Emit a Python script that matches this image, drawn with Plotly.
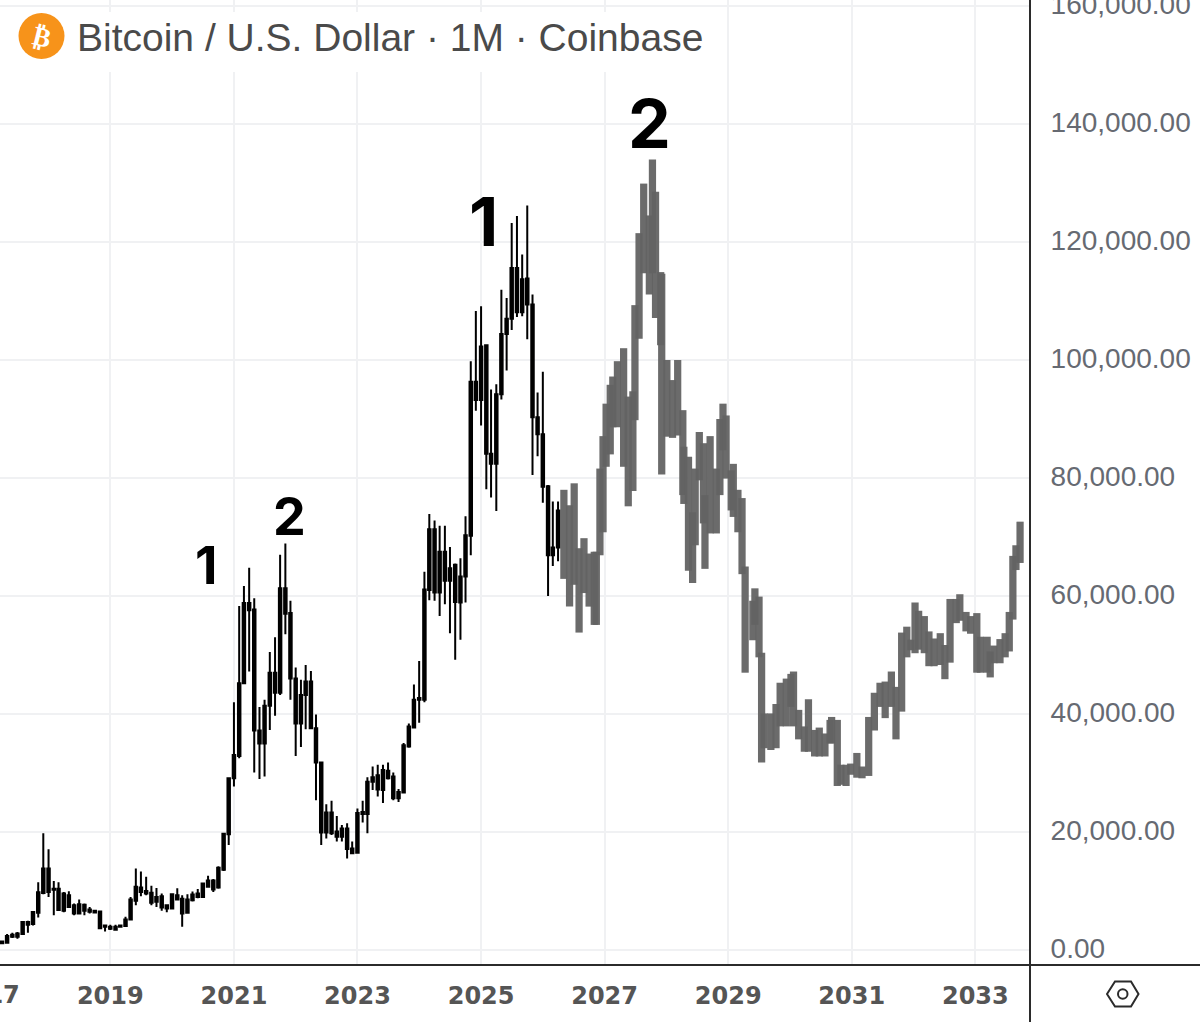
import pandas as pd
import plotly.graph_objects as go

# Monthly BTC/USD candles, prices in thousands of dollars
first_candle = "2017-04-01"
candle_open = [1.13,1.24,2.25,2.25,2.7,4.73,4.39,6.3,9.68,13.8,10.4,10.4,6.64,9.3,7.6,6.2,7.66,6.87,6.64,6.53,3.94,
               3.94,3.43,3.94,4.05,5.18,8.33,10.6,10.0,9.7,8.16,9.12,7.04,7.04,9.3,8.67,6.3,8.44,9.0,9.0,11.8,11.8,10.6,13.6,19.6,
               29.1,32.9,45.2,58.8,57.7,37.2,35.0,41.4,47.0,43.6,61.3,57.1,46.0,38.4,43.2,45.5,37.6,31.8,19.9,23.3,19.2,20.6,20.6,17.2,
               16.5,23.05,23.05,28.5,29.6,27.1,30.4,29.4,25.7,26.7,34.5,37.7,42.4,42.4,61.0,71.3,60.6,67.5,62.6,65.3,58.9,63.3,
               70.2,96.3,93.2,102.5,84.1,82.4,94.2,104.4,107,115.6,108.1,113.8,109.4,90.3,87.4,78.6,66.9,68.2]
candle_high = [1.46,2.7,2.93,3.04,4.73,4.95,6.53,11.5,19.8,17.06,11.7,11.5,9.85,9.96,7.88,8.56,7.88,7.3,6.75,6.64,4.17,
               4.28,4.28,4.2,5.63,9.0,13.8,13.3,12.4,10.9,10.5,9.57,7.77,9.57,10.47,9.3,9.46,9.9,10.36,11.37,12.6,12.05,14.2,19.8,29.1,
               42.0,58.3,61.7,64.8,59.6,41.2,42.4,50.5,53.0,67.0,68.9,59.2,47.9,45.8,48.3,47.3,39.9,31.9,24.7,25.3,22.7,21.2,21.5,18.4,
               24.0,25.3,29.3,31.1,31.4,31.4,31.8,30.1,27.3,35.1,38.4,45.0,49.0,64.1,73.9,72.8,71.9,71.9,68.3,65.5,66.4,73.5,
               99.8,108.3,109.1,102.6,95.0,95.9,111.9,110.5,123.2,124.4,117.9,126.2,111.1,94.5,98.0,78.8,76.0,76.0]
candle_low = [1.13,1.24,2.03,1.9,2.6,2.93,4.17,5.5,9.46,9.0,5.9,6.64,6.4,7.2,5.9,6.0,5.9,6.2,6.2,3.5,3.15,
              3.38,3.38,3.9,3.94,5.07,7.6,9.1,9.3,7.6,7.3,6.64,6.4,6.87,8.4,3.94,6.2,8.2,8.78,8.9,10.6,9.85,10.4,13.4,17.8,
              27.7,32.5,45.2,47.2,30.1,29.0,29.4,37.3,39.7,43.2,53.5,42.4,32.9,34.4,37.4,37.4,25.4,17.8,18.9,19.5,18.4,18.4,15.5,16.3,
              16.4,21.6,19.8,27.1,26.0,24.9,28.9,25.4,25.1,26.7,34.3,37.7,38.5,42.0,59.3,59.2,56.6,58.6,53.7,49.2,52.6,58.9,
              66.9,91.4,88.9,78.1,76.7,74.4,93.3,98.2,105.1,107.3,107.4,103.5,80.5,83.7,75.8,60.0,65.1,65.9]
candle_close = [1.46,2.36,2.59,2.8,4.73,4.28,6.42,9.8,13.8,9.85,10.2,6.76,9.57,7.3,6.2,7.77,6.64,6.5,6.36,3.7,4.17,
                3.6,3.94,4.17,5.18,8.56,10.7,9.85,9.57,8.0,9.0,7.2,7.6,9.46,8.56,6.2,8.56,9.4,9.57,11.26,10.7,10.25,13.96,19.7,29.1,
                33.05,45.2,58.8,57.6,37.2,35.0,41.4,47.0,43.6,61.3,57.0,46.0,38.4,43.2,45.5,37.6,31.8,19.9,23.3,19.8,20.1,19.2,17.1,16.4,
                23.2,23.4,28.5,29.3,27.2,30.5,29.1,25.7,26.8,34.7,37.9,42.4,42.7,61.1,71.3,60.6,67.5,62.6,64.7,59.0,63.3,70.3,
                96.3,93.2,102.3,84.1,82.4,94.2,104.4,107,115.6,108.1,113.7,109.4,90.3,87.4,78.5,66.9,68.2,74.5]

# Projected path: high/low ranges, placed by months since January 2019
range_month = [88.1,89.2,90.1,91.05,92,93,94,94.4,95.1,95.7,96.3,97.1,97.6,98.5,99.7,100.6,101.5,101.9,102.7,103.6,104.7,105.3,105.9,
               106.9,107.1,108.1,109.2,110.2,111.2,111.4,112.3,113.1,113.6,114.4,115.2,115.5,116.5,117.7,118.4,119,119.6,120.6,121,121.9,
               122.7,123.3,124.8,125.2,126,126.5,127,128.3,129.3,130.1,131.3,132.2,132.7,133.7,134.8,135.6,136.8,137.7,138.8,139.8,140.1,
               141.2,141.9,142.9,143.8,145,146,147.3,148.4,149.5,150.5,151.7,152.6,153.7,154.7,155.5,156.3,157,158.1,159,160,161.2,162.1,
               163.1,164.3,165,166.2,167.1,168.3,169,170.3,170.9,171.6,172.8,173.8,174.6,175.3,175.9,176.7]
range_high = [78.0,75.4,79.1,68.1,69.8,67.2,67.5,67.5,81.6,87.1,92.6,95.8,97.2,99.8,102,93.8,94.7,109.3,121.5,129.9,124.5,134,128.5,
              114.9,114.6,100,96.6,100,91.5,85.3,83.6,74.2,81.6,87.8,85.9,77.1,87.1,81.6,90,92.6,90.6,81.3,82.4,78,
              76.6,65.0,59.2,61.3,59.9,50.4,40.1,40.1,41.7,45.3,46,46.8,47.2,40.7,37.9,42.5,37.3,37.7,36.7,39,39.5,
              39,31.4,31.4,31.6,33.4,31.1,39.5,43.6,45.3,45.5,47.2,44.6,53.8,54.8,52.6,58.9,57.5,56.6,54,52.8,53.7,51.7,
              59.5,59.5,60.3,57.3,56.6,57.1,53.1,53.1,50.6,51.6,52.7,53.7,57.3,66.8,68.6,72.6,73.3]
range_low = [62.9,58.2,61.9,53.8,60.5,58.2,55.1,55.1,66.9,70.8,81.9,84.0,88.6,88.6,81.9,75.2,77.8,89.8,103.6,114.7,111.1,114.7,107.1,
             102.5,80.6,87,86.8,87.2,77.1,75.6,64.3,62.2,68.6,79.6,72.3,64.6,70.6,70.6,77.1,84.7,79.9,74.5,73.4,70.8,
             63.7,47.0,52.5,55.1,49.6,31.8,34.2,33.9,34.2,37.9,37.9,41.2,37.9,35.7,33.6,33.6,32.8,32.8,32.8,35,35,
             27.8,28,27.8,29.7,29.2,29.1,29.5,37.2,41.2,39.3,41.2,35.7,40.4,49.6,50.8,50.3,50.9,50.3,48.1,48.1,48.3,45.9,
             48.7,55.4,55.8,54,53.6,47,47,47,46.2,48.6,48.6,49.6,50.6,56,64.4,65.6,65.8]

peak_labels = ["1", "2", "1", "2"]
y_ticks = [0, 20000, 40000, 60000, 80000, 100000, 120000, 140000, 160000]

WIDTH, HEIGHT = 1200, 1022
PLOT_W, PLOT_H = 1030, 965
GRID = "#f0f1f3"
INK = "#2b2b2b"


def px(x):
    return x / PLOT_W


def py(y):
    return (PLOT_H - y) / PLOT_H


candle_dates = pd.date_range(first_candle, periods=len(candle_open), freq="MS")
range_dates = [pd.Timestamp("2019-01-01") + pd.Timedelta(days=m * 30.4375) for m in range_month]
thousand = lambda seq: [v * 1000 for v in seq]

fig = go.Figure()
fig.add_trace(go.Candlestick(
    x=candle_dates,
    open=thousand(candle_open), high=thousand(candle_high),
    low=thousand(candle_low), close=thousand(candle_close),
    increasing=dict(line=dict(color="#000000", width=2), fillcolor="#000000"),
    decreasing=dict(line=dict(color="#000000", width=2), fillcolor="#000000"),
    whiskerwidth=0, showlegend=False, hoverinfo="skip",
))
fig.add_trace(go.Bar(
    x=range_dates,
    y=[(h - l) * 1000 for h, l in zip(range_high, range_low)],
    base=thousand(range_low),
    width=3.7e9,
    marker=dict(color="rgba(99,99,99,0.95)", line_width=0),
    showlegend=False, hoverinfo="skip",
))

shapes = [
    # Header backdrop behind the symbol title
    dict(type="rect", xref="paper", yref="paper", x0=px(0), x1=px(712), y0=py(72), y1=py(12),
         fillcolor="#ffffff", line_width=0, layer="above"),
    # Coin badge
    dict(type="circle", xref="paper", yref="paper", x0=px(18.5), x1=px(64.5), y0=py(59), y1=py(13),
         fillcolor="#f7931a", line_width=0, layer="above"),
    # Pane separators
    dict(type="line", xref="paper", yref="paper", x0=px(0), x1=px(WIDTH), y0=py(965), y1=py(965),
         line=dict(color=INK, width=2), layer="above"),
    dict(type="line", xref="paper", yref="paper", x0=px(1030), x1=px(1030), y0=py(0), y1=py(HEIGHT),
         line=dict(color=INK, width=2), layer="above"),
    # Settings icon in the corner
    dict(type="path", xref="paper", yref="paper",
         path="M {} {} L {} {} L {} {} L {} {} L {} {} L {} {} Z".format(
             px(1107), py(994), px(1115), py(981.5), px(1131), py(981.5),
             px(1138.5), py(994), px(1131), py(1006.5), px(1115), py(1006.5)),
         line=dict(color=INK, width=2), layer="above"),
    dict(type="circle", xref="paper", yref="paper", x0=px(1118), x1=px(1127.5), y0=py(998.7), y1=py(989.2),
         line=dict(color=INK, width=2), layer="above"),
]

LABEL = "Liberation Sans"
annotations = [
    dict(text="Bitcoin / U.S. Dollar · 1M · Coinbase", x=px(75.5), y=py(37), xanchor="left", yanchor="middle",
         font=dict(family=LABEL, size=39, color="#4a4a4a")),
    dict(text="₿", x=px(41.5), y=py(36.5), xanchor="center", yanchor="middle", textangle=14,
         font=dict(family="DejaVu Sans", size=27, color="#ffffff", weight="bold")),
    # Part of the 2017 axis label that runs off the left edge
    dict(text="2017", x=px(-13.6), y=py(995), xanchor="center", yanchor="middle",
         font=dict(family="DejaVu Sans", size=24, color="#555555", weight="bold")),
]
peak_spots = [(206, 565, 52), (289, 516, 52), (483.5, 221, 68), (649, 123, 68)]
for text, (x, y, size) in zip(peak_labels, peak_spots):
    annotations.append(dict(text=text, x=px(x), y=py(y), xanchor="center", yanchor="middle",
                            font=dict(family="Inter", size=size, color="#000000", weight="bold")))
for a in annotations:
    a.update(xref="paper", yref="paper", showarrow=False, borderpad=0)

fig.update_layout(
    width=WIDTH, height=HEIGHT,
    margin=dict(l=0, r=WIDTH - PLOT_W, t=0, b=HEIGHT - PLOT_H, autoexpand=False),
    paper_bgcolor="#ffffff", plot_bgcolor="#ffffff",
    boxgap=0.25, barmode="overlay",
    shapes=shapes, annotations=annotations,
    xaxis=dict(
        type="date", rangeslider=dict(visible=False),
        range=["2017-03-20", "2033-11-20"],
        tick0="2017-01-01", dtick="M24", tickformat="%Y",
        showgrid=True, gridcolor=GRID, gridwidth=2, zeroline=False, showline=False,
        ticks="outside", ticklen=9, tickcolor="rgba(0,0,0,0)",
        tickfont=dict(family="DejaVu Sans", size=24, color="#555555", weight="bold"),
    ),
    yaxis=dict(
        side="right", range=[-2542, 161017],
        tickmode="array", tickvals=y_ticks, tickformat=",.2f",
        showgrid=True, gridcolor=GRID, gridwidth=2, zeroline=False, showline=False,
        ticks="outside", ticklen=14, tickcolor="rgba(0,0,0,0)",
        ticklabelshift=-2, ticklabeloverflow="allow",
        tickfont=dict(family=LABEL, size=28, color="#666a72"),
    ),
)

fig.write_html("out.html", config=dict(displayModeBar=False))
